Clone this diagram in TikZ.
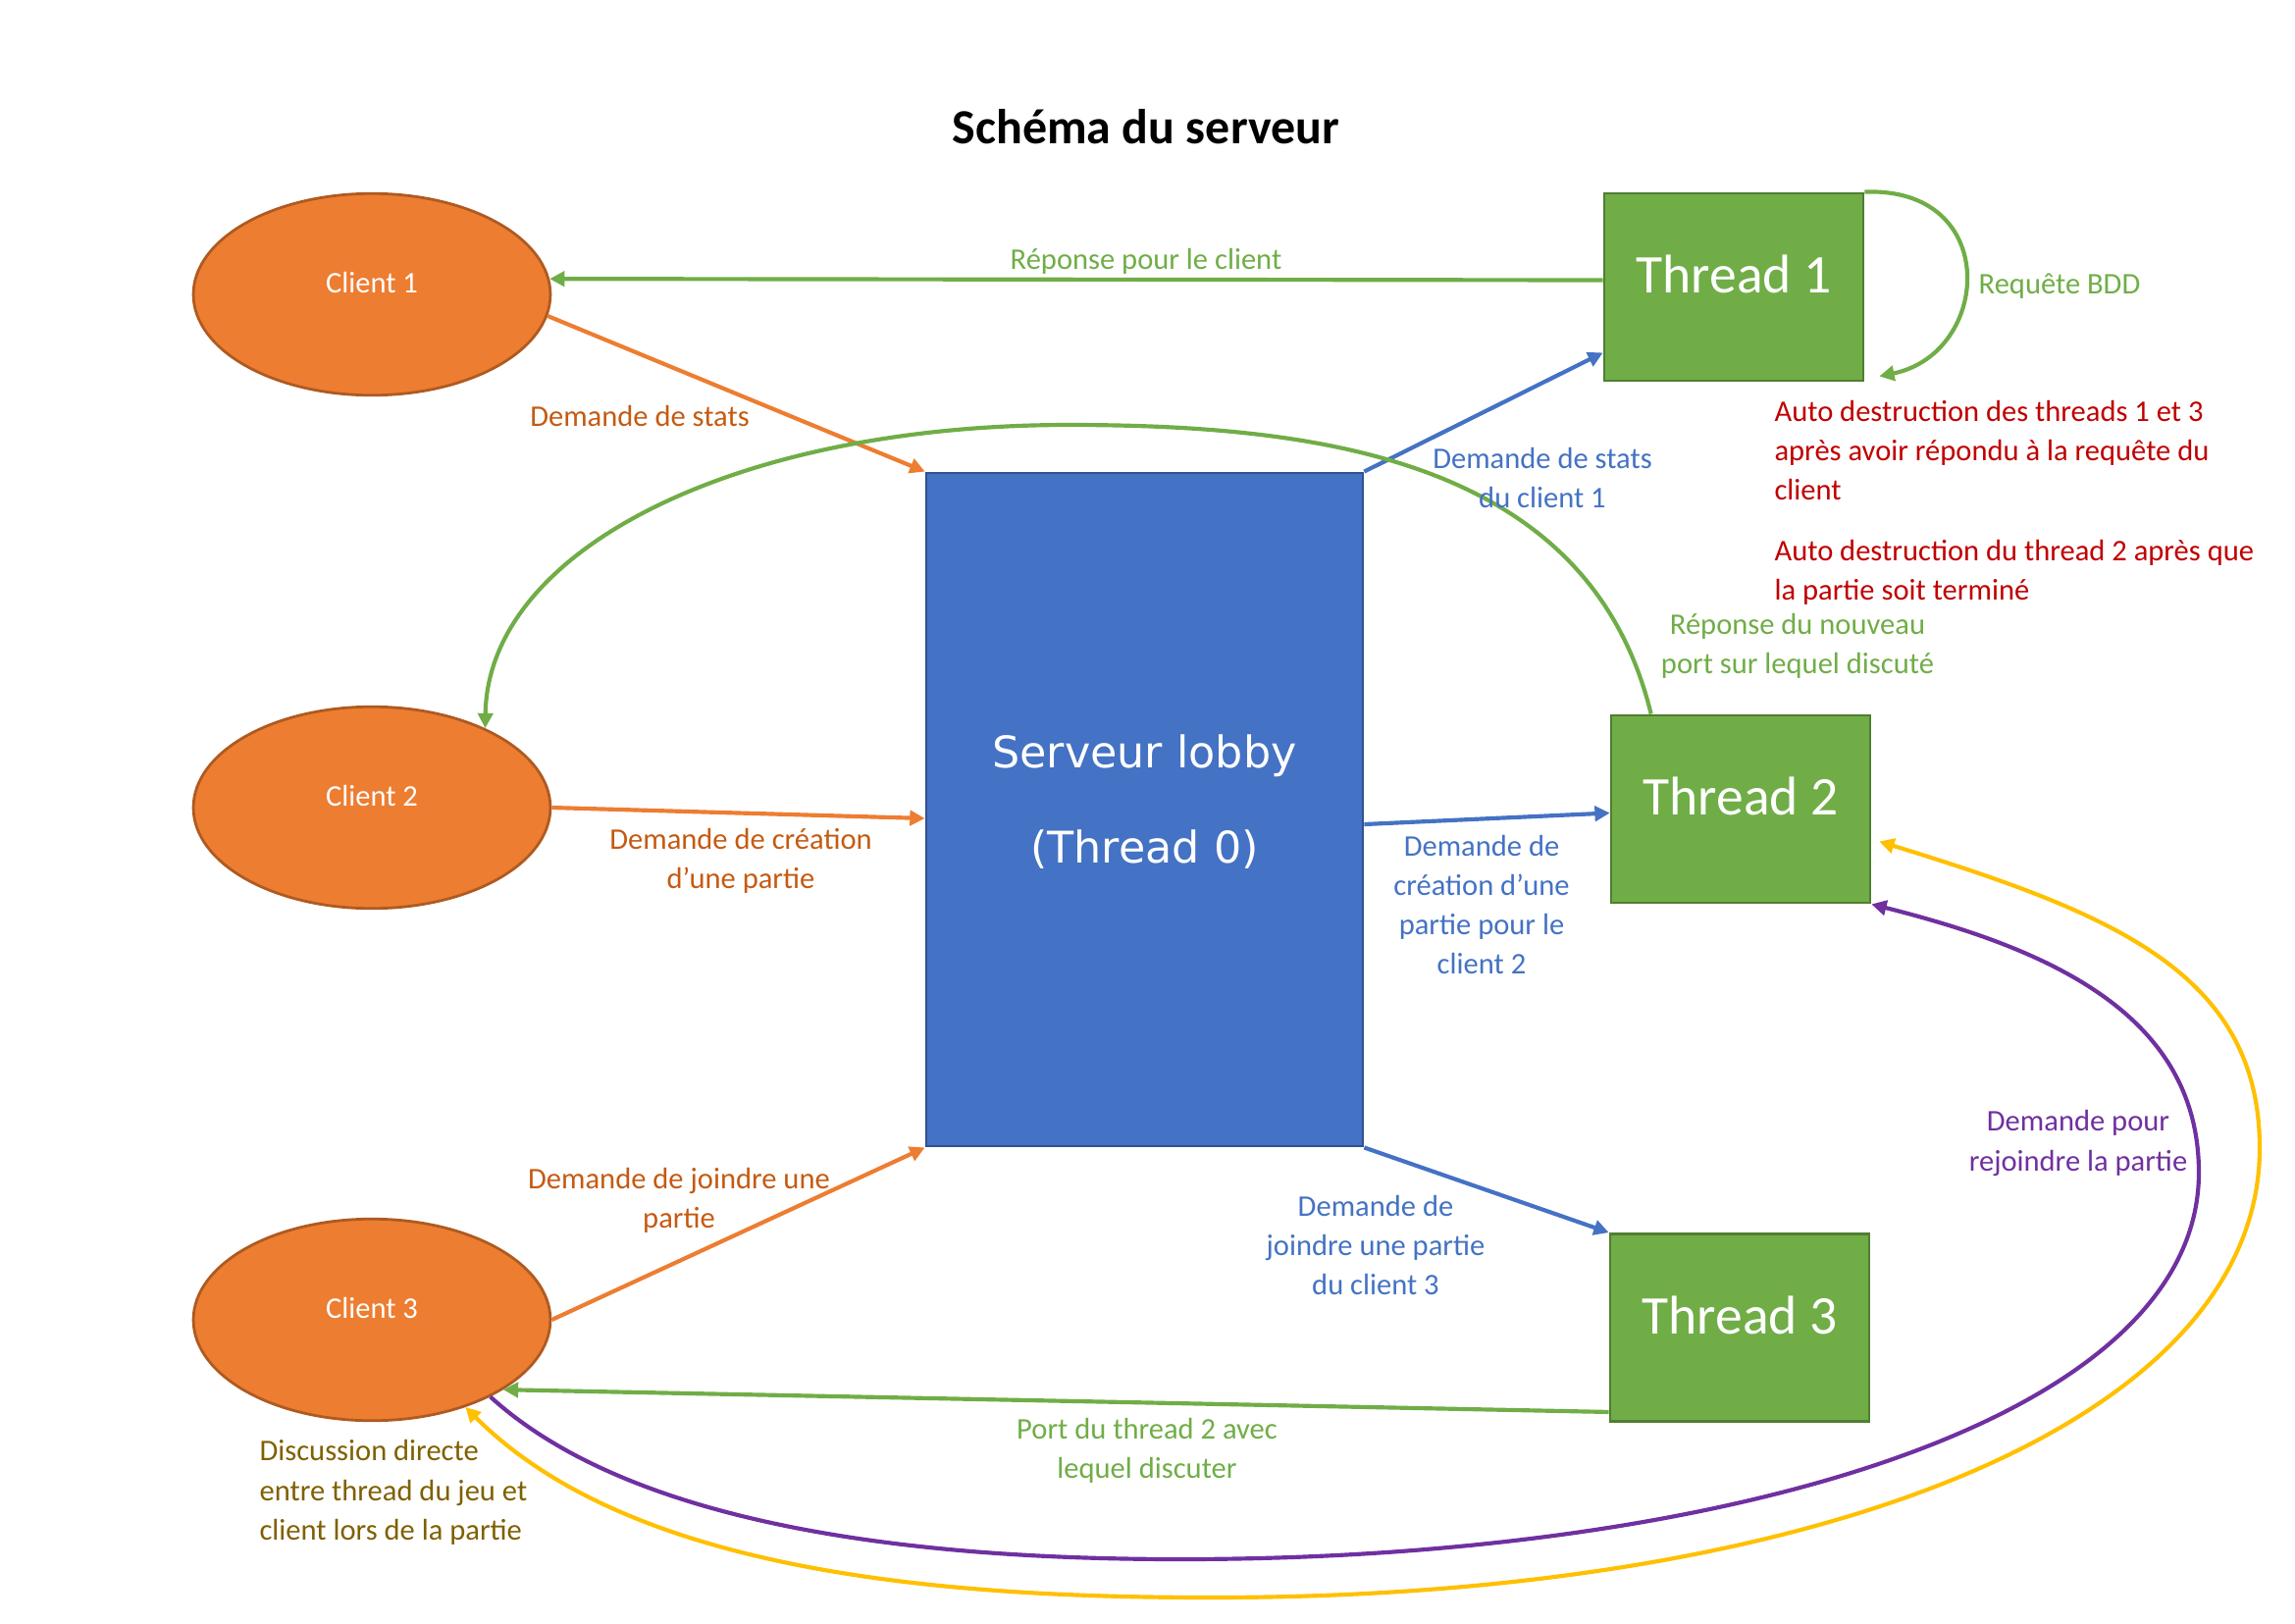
\documentclass[tikz,border=0pt]{standalone}
\usepackage{fontspec}
\setmainfont{Carlito}
\newfontfamily\lobbyfont{DejaVu Sans}
\usetikzlibrary{shapes.geometric,arrows.meta,calc}
\definecolor{corange}{HTML}{ED7D31}
\definecolor{corangedark}{HTML}{AE5A21}
\definecolor{corangetext}{HTML}{C55A11}
\definecolor{cblue}{HTML}{4472C4}
\definecolor{cbluedark}{HTML}{2F528F}
\definecolor{cgreen}{HTML}{70AD47}
\definecolor{cgreendark}{HTML}{507E32}
\definecolor{cred}{HTML}{C00000}
\definecolor{cpurple}{HTML}{7030A0}
\definecolor{cgold}{HTML}{FFC000}
\definecolor{colive}{HTML}{7F6000}
\begin{document}
\begin{tikzpicture}[x=0.36pt,y=-0.36pt,
  client/.style={ellipse, draw=corangedark, line width=1pt, fill=corange,
    minimum width=131pt, minimum height=74pt, inner sep=0pt, text=white,
    font=\fontsize{11}{13}\selectfont, text height=8pt, text depth=9pt},
  thread/.style={rectangle, draw=cgreendark, line width=1pt, fill=cgreen,
    minimum width=95pt, minimum height=68.8pt, inner sep=0pt, text=white,
    font=\fontsize{20}{24}\selectfont, text height=14pt, text depth=9.4pt},
  server/.style={rectangle, draw=cbluedark, line width=1pt, fill=cblue,
    minimum width=160.2pt, minimum height=247pt, inner sep=0pt},
  lbl/.style={align=center, inner sep=0pt, font=\fontsize{11}{14.5}\selectfont},
  lbll/.style={align=left, anchor=west, inner sep=0pt, font=\fontsize{11}{14.5}\selectfont},
  conn/.style={line width=1.5pt, -{Triangle[length=5.5pt,width=5.5pt]}}
]
\useasboundingbox (0,0) rectangle (2339,1654);

% title
\node[inner sep=0pt, font=\fontsize{18}{22}\selectfont\bfseries] (title) at (1168,129) {Schéma du serveur};

% nodes
\node[client] (c1) at (379,300) {Client 1};
\node[client] (c2) at (379,823) {Client 2};
\node[client] (c3) at (379,1345) {Client 3};
\node[server] (srv) at (1166.5,825) {};
\node[align=center, text=white, inner sep=0pt, font=\lobbyfont\fontsize{16}{35}\selectfont] (srvtxt) at (1166.5,817) {Serveur lobby\\(Thread 0)};
\node[thread] (t1) at (1767,292.5) {Thread 1};
\node[thread] (t2) at (1774,824.5) {Thread 2};
\node[thread] (t3) at (1773,1353) {Thread 3};

% straight connectors
\draw[conn, cgreen] ($(t1.west)+(0,-7)$) -- (c1.5);
\draw[conn, corange] (c1.-7) -- (srv.north west);
\draw[conn, corange] (c2.east) -- ($(srv.west)+(0,9)$);
\draw[conn, corange] (c3.east) -- (srv.south west);
\draw[conn, cblue] (srv.north east) -- ($(t1.south west)+(0,-30)$);
\draw[conn, cblue] ($(srv.east)+(0,15)$) -- ($(t2.west)+(0,4)$);
\draw[conn, cblue] (srv.south east) -- (t3.north west);
\draw[conn, cgreen] ($(t3.south west)+(0,-11)$) -- (c3.-28);

% curved connectors
\draw[conn, cgreen] (t1.north east) .. controls (2040,190) and (2030,360) .. ($(t1.south east)+(15,-6)$);
\draw[conn, cgreen] ($(t2.north west)+(42,0)$) .. controls (1620,470) and (1350,433) .. (1089,433)
  .. controls (750,433) and (497,560) .. (c2.35);
\draw[conn, cpurple] (c3.-33) .. controls (650,1560) and (950,1589) .. (1203,1589)
  .. controls (1750,1589) and (2241,1450) .. (2241,1195)
  .. controls (2241,1030) and (2080,965) .. (t2.south east);
\draw[line width=1.5pt, cgold, {Triangle[length=5.5pt,width=5.5pt]}-{Triangle[length=5.5pt,width=5.5pt]}]
  (c3.-43) .. controls (640,1600) and (950,1628) .. (1235,1628)
  .. controls (1850,1628) and (2303,1450) .. (2303,1170)
  .. controls (2303,990) and (2150,930) .. ($(t2.east)+(8,33)$);

% labels
\node[lbl, text=cgreen] (l1) at (1168,266) {Réponse pour le client};
\node[lbl, text=corangetext] (l2) at (652,424) {Demande de stats};
\node[lbl, text=corangetext] (l3) at (755,877) {Demande de création\\d’une partie};
\node[lbl, text=corangetext] (l4) at (692,1223) {Demande de joindre une\\partie};
\node[lbl, text=cblue] (l5) at (1572,487) {Demande de stats\\du client 1};
\node[lbl, text=cblue] (l6) at (1510,922) {Demande de\\création d’une\\partie pour le\\client 2};
\node[lbl, text=cblue] (l7) at (1402,1269) {Demande de\\joindre une partie\\du client 3};
\node[lbl, text=cgreen] (l8) at (1169,1478) {Port du thread 2 avec\\lequel discuter};
\node[lbl, text=cgreen] (l9) at (2099,292) {Requête BDD};
\node[lbl, text=cgreen] (l10) at (1832,658) {Réponse du nouveau\\port sur lequel discuté};
\node[lbl, text=cpurple] (l11) at (2118,1165) {Demande pour\\rejoindre la partie};
\node[lbll, text=cred] (l12) at (1808,459) {Auto destruction des threads 1 et 3\\après avoir répondu à la requête du\\client};
\node[lbll, text=cred] (l13) at (1808,583) {Auto destruction du thread 2 après que\\la partie soit terminé};
\node[lbll, text=colive] (l14) at (264,1521) {Discussion directe\\entre thread du jeu et\\client lors de la partie};
\end{tikzpicture}
\end{document}
